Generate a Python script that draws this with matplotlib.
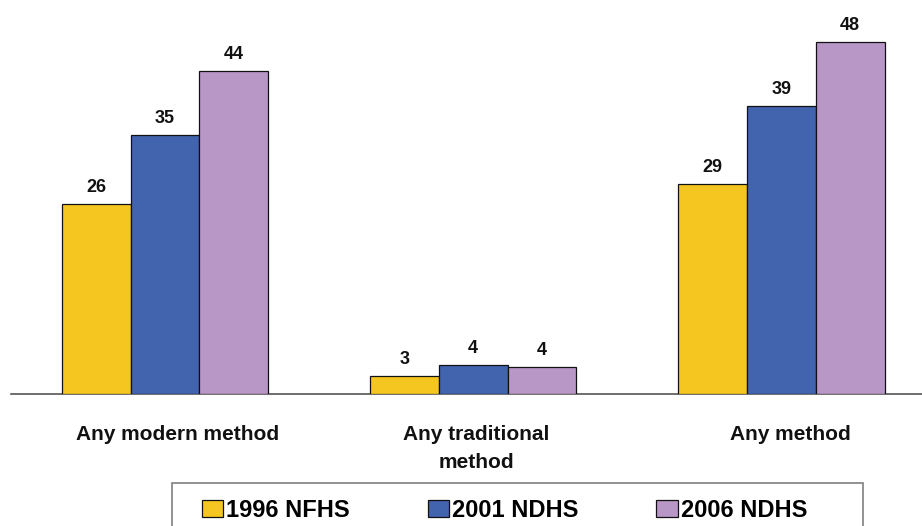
import matplotlib
matplotlib.use("Agg")
import matplotlib.pyplot as plt
import matplotlib.transforms as mtransforms
from matplotlib.patches import Rectangle
import numpy as np

plt.rcParams['font.family'] = ['Liberation Sans', 'DejaVu Sans']

categories = ["Any modern method", "Any traditional\nmethod", "Any method"]
series_names = ["1996 NFHS", "2001 NDHS", "2006 NDHS"]
values_1996 = [25.9, 2.4, 28.6]
values_2001 = [35.3, 3.9, 39.3]
values_2006 = [44.1, 3.7, 48.0]
labels_1996 = ["26", "3", "29"]
labels_2001 = ["35", "4", "39"]
labels_2006 = ["44", "4", "48"]
colors = ["#F5C61F", "#4264AE", "#B896C6"]

W, H = 922, 526
fig = plt.figure(figsize=(W / 100, H / 100), dpi=100)
ax = fig.add_axes([10.6 / W, 132 / H, (W - 10.6) / W, 366.5 / H])

x = np.arange(len(categories))
bw = 0.2229
series = [values_1996, values_2001, values_2006]
labels = [labels_1996, labels_2001, labels_2006]
handles = []
for i, (vals, labs) in enumerate(zip(series, labels)):
    xs = x + (i - 1) * bw
    b = ax.bar(xs, vals, width=bw, color=colors[i], edgecolor="#111111",
               linewidth=0.9, label=series_names[i], zorder=3)
    handles.append(b)
    for xi, v, lab in zip(xs, vals, labs):
        ax.annotate(lab, (xi, v), xytext=(0, 8.6), textcoords="offset points",
                    ha="center", va="baseline", fontsize=13, fontweight="bold",
                    color="#111111")

ax.set_xlim(-0.501, 2.456)
ax.set_ylim(0, 50)
for s in ["top", "right", "left"]:
    ax.spines[s].set_visible(False)
ax.spines["bottom"].set_color("#555555")
ax.spines["bottom"].set_linewidth(1.2)
ax.set_xticks([])
ax.set_yticks([])

trans = mtransforms.blended_transform_factory(ax.transData, fig.transFigure)
label_offsets = [0.04, 0.01, 0.03]
line_step = 28
for xi, cat, off in zip(x, categories, label_offsets):
    for k, line in enumerate(cat.split("\n")):
        ax.text(xi + off, (H - 440 - k * line_step) / H, line, transform=trans,
                ha="center", va="baseline", fontsize=15, fontweight="bold",
                color="#111111")

# legend frame
fig.patches.append(Rectangle((172 / W, (H - 535) / H), (863 - 172) / W, 52 / H,
                             transform=fig.transFigure, fill=False,
                             edgecolor="#7f7f7f", linewidth=1.2))

leg = fig.legend(handles=handles, labels=series_names, loc="upper left",
                 bbox_to_anchor=(202 / W, (H - 499) / H), ncol=3, frameon=False,
                 borderpad=0, borderaxespad=0, handlelength=0.9,
                 handleheight=0.72, handletextpad=0.13, columnspacing=3.3,
                 prop={"size": 17, "weight": "bold"})

fig.savefig("out.png", dpi=100)
